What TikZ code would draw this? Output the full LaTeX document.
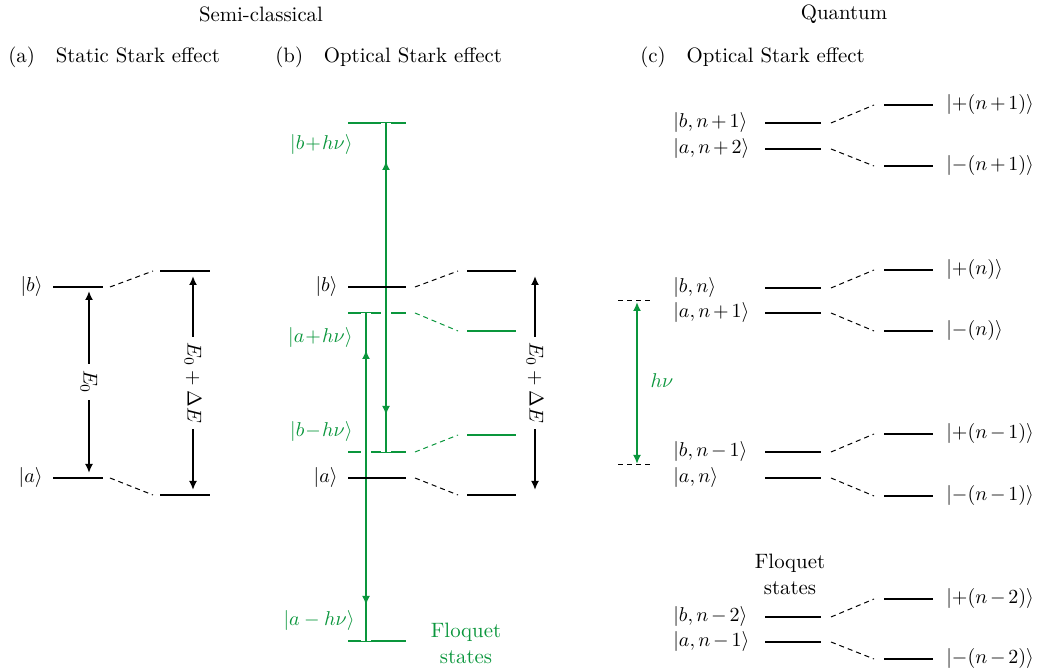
\documentclass[tikz,border=0pt]{standalone}
\usetikzlibrary{arrows.meta,calc}
\definecolor{fgreen}{RGB}{10,150,60}
\newcommand\tp{\mskip2.5mu{+}\mskip2.5mu}
\newcommand\tmn{\mskip2.5mu{-}\mskip2.5mu}
\begin{document}
\begin{tikzpicture}[x=0.5pt,y=-0.5pt,
  every node/.style={font=\fontsize{10.4}{13}\selectfont, inner sep=0pt},
  lvl/.style={line width=1.1pt, black},
  glvl/.style={line width=1.1pt, fgreen},
  conn/.style={line width=0.5pt, dash pattern=on 2.5pt off 2pt},
  gconn/.style={conn, fgreen},
  gvert/.style={line width=1pt, fgreen, preaction={draw=white, line width=5pt}},
  tipend/.style={-{Latex[length=4.5pt,width=4pt]}},
  dblarrow/.style={line width=0.9pt, {Latex[length=4.5pt,width=4pt]}-{Latex[length=4.5pt,width=4pt]}},
  vlabel/.style={fill=white, rotate=-90, inner xsep=3pt, inner ysep=2pt},
  glab/.style={text=fgreen},
]
\useasboundingbox (0,0) rectangle (1040,672);

% ---------- titles ----------
\node (tsemi) at (261,14) {Semi-classical};
\node (tquant) at (844,14) {Quantum};
\node[anchor=west] (ta) at (8,57) {(a)\quad Static Stark effect};
\node[anchor=west] (tb) at (275,57) {(b)\quad Optical Stark effect};
\node[anchor=west] (tc) at (640,57) {(c)\quad Optical Stark effect};

% ---------- panel (a) ----------
\coordinate (ab1) at (53,287);  \coordinate (ab2) at (103,287);
\coordinate (aa1) at (53,478);  \coordinate (aa2) at (103,478);
\coordinate (ab3) at (160,271); \coordinate (ab4) at (210,271);
\coordinate (aa3) at (160,495); \coordinate (aa4) at (210,495);
\draw[lvl] (ab1) -- (ab2);
\draw[lvl] (aa1) -- (aa2);
\draw[lvl] (ab3) -- (ab4);
\draw[lvl] (aa3) -- (aa4);
\draw[conn] ($(ab2)+(7,0)$) -- ($(ab3)+(-7,0)$);
\draw[conn] ($(aa2)+(7,0)$) -- ($(aa3)+(-7,0)$);
\node[anchor=east] (labA_b) at ($(ab1)+(-10,0)$) {$|b\rangle$};
\node[anchor=east] (labA_a) at ($(aa1)+(-10,0)$) {$|a\rangle$};
\coordinate (e0t) at (89,291); \coordinate (e0b) at (89,473);
\draw[dblarrow] (e0t) -- node[vlabel] (e0lab) {$E_0$} (e0b);
\coordinate (e1t) at (193,276); \coordinate (e1b) at (193,490);
\draw[dblarrow] (e1t) -- node[vlabel] (e1lab) {$E_0+\Delta E$} (e1b);

% ---------- panel (b) ----------
\coordinate (bbp1) at (348,123); \coordinate (bbp2) at (406,123);
\coordinate (bb1) at (348,287);  \coordinate (bb2) at (406,287);
\coordinate (bap1) at (348,313); \coordinate (bap2) at (406,313);
\coordinate (bbm1) at (348,452); \coordinate (bbm2) at (406,452);
\coordinate (ba1) at (348,478);  \coordinate (ba2) at (406,478);
\coordinate (bam1) at (348,641); \coordinate (bam2) at (406,641);
\coordinate (rb1) at (467,271);  \coordinate (rb2) at (516,271);
\coordinate (rap1) at (467,331); \coordinate (rap2) at (516,331);
\coordinate (rbm1) at (467,435); \coordinate (rbm2) at (516,435);
\coordinate (ra1) at (467,495);  \coordinate (ra2) at (516,495);

% green levels first (so the vertical halos cut them)
\draw[glvl] (bbp1) -- (bbp2);
\draw[glvl] (bap1) -- (bap2);
\draw[glvl] (bbm1) -- (bbm2);
\draw[glvl] (bam1) -- (bam2);

% vertical green lines with white halo
\coordinate (vb) at (386,123); \coordinate (vbb) at (386,452); \coordinate (vbm) at (386,287);
\coordinate (va) at (366,313); \coordinate (vab) at (366,641); \coordinate (vam) at (366,478);
\draw[gvert] (vb) -- (vbb);
\draw[gvert] (va) -- (vab);
\coordinate (tipb1) at (386,161); \coordinate (tipb2) at (386,415);
\coordinate (tipa1) at (366,350); \coordinate (tipa2) at (366,605);
\draw[line width=1pt, fgreen, tipend] (vbm) -- (tipb1);
\draw[line width=1pt, fgreen, tipend] (vbm) -- (tipb2);
\draw[line width=1pt, fgreen, tipend] (vam) -- (tipa1);
\draw[line width=1pt, fgreen, tipend] (vam) -- (tipa2);

% black levels on top
\draw[lvl] (bb1) -- (bb2);
\draw[lvl] (ba1) -- (ba2);
\draw[lvl] (rb1) -- (rb2);
\draw[lvl] (ra1) -- (ra2);
\draw[glvl] (rap1) -- (rap2);
\draw[glvl] (rbm1) -- (rbm2);

\draw[conn] ($(bb2)+(9,0)$) -- ($(rb1)+(-9,0)$);
\draw[gconn] ($(bap2)+(9,0)$) -- ($(rap1)+(-9,0)$);
\draw[gconn] ($(bbm2)+(9,0)$) -- ($(rbm1)+(-9,0)$);
\draw[conn] ($(ba2)+(9,0)$) -- ($(ra1)+(-9,0)$);

\node[anchor=east, glab] (lbp) at (353,145) {$|b\!+\!h\nu\rangle$};
\node[anchor=east] (lb) at (338,287) {$|b\rangle$};
\node[anchor=east, glab] (lap) at (353,338) {$|a\!+\!h\nu\rangle$};
\node[anchor=east, glab] (lbm) at (353,432) {$|b\!-\!h\nu\rangle$};
\node[anchor=east] (la) at (338,478) {$|a\rangle$};
\node[anchor=east, glab] (lam) at (355,621) {$|a-h\nu\rangle$};
\node[glab, align=center] (flq1) at (466,643) {Floquet\\states};

\coordinate (e2t) at (535,276); \coordinate (e2b) at (535,490);
\draw[dblarrow] (e2t) -- node[vlabel] (e2lab) {$E_0+\Delta E$} (e2b);

% ---------- panel (c) ----------
\foreach \i/\yb/\ya/\yp/\ym/\lb/\la/\lp/\lm in {
  1/123/149/105/166/{b,n\tp1}/{a,n\tp2}/{{+}(n\tp1)}/{{-}(n\tp1)},
  2/288/313/270/331/{b,n}/{a,n\tp1}/{{+}(n)}/{{-}(n)},
  3/452/478/434/496/{b,n\tmn1}/{a,n}/{{+}(n\tmn1)}/{{-}(n\tmn1)},
  4/617/642/599/659/{b,n\tmn2}/{a,n\tmn1}/{{+}(n\tmn2)}/{{-}(n\tmn2)}}{
  \coordinate (cb\i l) at (765,\yb); \coordinate (cb\i r) at (821,\yb);
  \coordinate (ca\i l) at (765,\ya); \coordinate (ca\i r) at (821,\ya);
  \coordinate (cp\i l) at (884,\yp); \coordinate (cp\i r) at (933,\yp);
  \coordinate (cm\i l) at (884,\ym); \coordinate (cm\i r) at (933,\ym);
  \draw[lvl] (cb\i l) -- (cb\i r);
  \draw[lvl] (ca\i l) -- (ca\i r);
  \draw[lvl] (cp\i l) -- (cp\i r);
  \draw[lvl] (cm\i l) -- (cm\i r);
  \draw[conn] ($(cb\i r)+(10,0)$) -- ($(cp\i l)+(-10,0)$);
  \draw[conn] ($(ca\i r)+(10,0)$) -- ($(cm\i l)+(-10,0)$);
  \node[anchor=west] (lcb\i) at (673,\yb) {$|\lb\rangle$};
  \node[anchor=west] (lca\i) at (673,\ya) {$|\la\rangle$};
  \node[anchor=west] (lcp\i) at (946,\yp) {$|\lp\rangle$};
  \node[anchor=west] (lcm\i) at (946,\ym) {$|\lm\rangle$};
}
\node[align=center] (flq2) at (790,574) {Floquet\\states};

\coordinate (hd1l) at (618,301); \coordinate (hd1r) at (653,301);
\coordinate (hd2l) at (618,465); \coordinate (hd2r) at (653,465);
\draw[conn] (hd1l) -- (hd1r);
\draw[conn] (hd2l) -- (hd2r);
\coordinate (hvt) at (637,302); \coordinate (hvb) at (637,464);
\draw[dblarrow, fgreen, line width=1pt] (hvt) -- (hvb);
\node[glab] (hnu) at (662,381) {$h\nu$};
\end{tikzpicture}
\end{document}
